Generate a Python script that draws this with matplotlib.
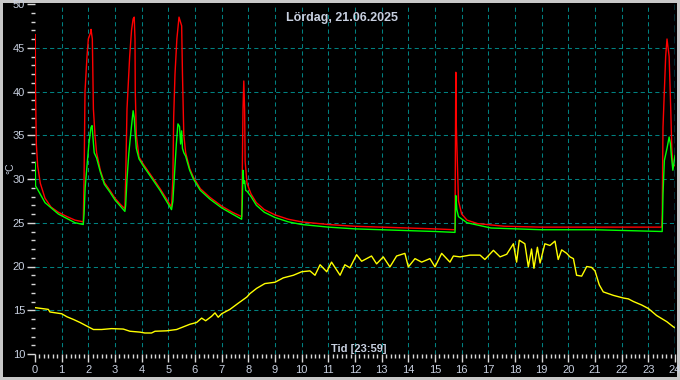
import numpy as np
import matplotlib.pyplot as plt
from matplotlib.ticker import MultipleLocator

# --- data (time in hours, temperature in degC) ---
red_t = [0.01, 0.02, 0.05, 0.10, 0.20, 0.375, 0.60, 0.875, 1.20, 1.50, 1.81,
         1.84, 1.875, 1.95, 2.00, 2.08, 2.10, 2.15, 2.19, 2.25, 2.31, 2.45, 2.60, 2.81, 3.00, 3.20, 3.37,
         3.40, 3.45, 3.55, 3.62, 3.68, 3.72, 3.75, 3.76, 3.80, 3.90, 4.06, 4.40, 4.69, 5.12,
         5.17, 5.20, 5.25, 5.32, 5.40, 5.50, 5.53, 5.58, 5.65, 5.80, 5.94, 6.20, 6.56, 7.00, 7.40, 7.75,
         7.77, 7.80, 7.83, 7.86, 7.88, 7.95, 8.10, 8.30, 8.60, 9.00, 9.50, 10.0, 11.0, 12.0, 13.0, 14.0, 15.0, 15.75,
         15.78, 15.80, 15.88, 16.00, 16.20, 16.60, 17.60, 19.0, 21.0, 23.50,
         23.52, 23.55, 23.60, 23.65, 23.70, 23.78, 23.84, 23.88, 23.92, 24.0]
red_v = [46.5, 40.0, 34.0, 31.5, 29.5, 27.8, 26.8, 26.2, 25.7, 25.3, 25.1,
         30.0, 40.0, 44.0, 46.0, 46.7, 47.1, 46.0, 38.0, 35.0, 33.0, 31.0, 29.6, 28.7, 27.8, 27.1, 26.6,
         30.0, 38.0, 44.0, 47.0, 48.3, 48.5, 46.0, 40.0, 35.0, 32.5, 31.7, 30.2, 28.9, 26.8,
         30.0, 37.0, 42.0, 46.0, 48.5, 47.5, 42.0, 35.0, 33.0, 31.2, 30.2, 28.9, 27.9, 26.9, 26.2, 25.7,
         30.0, 38.0, 41.2, 38.0, 32.0, 29.5, 28.3, 27.3, 26.5, 25.9, 25.4, 25.1, 24.8, 24.6, 24.5, 24.4, 24.3, 24.2,
         42.2, 36.0, 27.5, 26.0, 25.3, 24.9, 24.6, 24.5, 24.5, 24.5,
         26.0, 35.9, 40.0, 44.0, 46.0, 44.0, 38.0, 33.5, 31.7, 31.5]

green_t = [0.01, 0.02, 0.10, 0.375, 0.875, 1.50, 1.81,
           1.84, 1.88, 1.95, 2.02, 2.10, 2.14, 2.18, 2.22, 2.31, 2.45, 2.60, 2.81, 3.00, 3.20, 3.37,
           3.40, 3.45, 3.52, 3.60, 3.68, 3.72, 3.76, 3.80, 3.90, 4.06, 4.40, 4.69, 5.12,
           5.17, 5.22, 5.30, 5.36, 5.42, 5.46, 5.50, 5.53, 5.58, 5.65, 5.80, 5.94, 6.20, 6.56, 7.00, 7.40, 7.75,
           7.77, 7.80, 7.83, 7.86, 7.90, 7.95, 8.10, 8.30, 8.60, 9.00, 9.50, 10.0, 11.0, 12.0, 13.0, 14.0, 15.0, 15.75,
           15.78, 15.82, 15.88, 16.20, 17.10, 19.0, 21.0, 23.52,
           23.55, 23.60, 23.70, 23.78, 23.83, 23.87, 23.92, 24.0]
green_v = [31.9, 29.2, 28.8, 27.3, 26.0, 25.0, 24.8,
           26.0, 29.0, 31.5, 34.0, 35.9, 36.1, 34.5, 33.0, 32.4, 30.8, 29.4, 28.5, 27.6, 26.9, 26.3,
           27.0, 30.0, 33.0, 35.5, 37.8, 37.0, 35.0, 33.5, 32.3, 31.5, 30.0, 28.7, 26.5,
           27.5, 30.0, 34.0, 36.3, 36.0, 34.0, 35.5, 33.5, 33.0, 32.6, 31.0, 30.0, 28.7, 27.7, 26.7, 26.0, 25.4,
           27.0, 31.0, 29.5, 29.8, 28.7, 28.6, 28.0, 27.0, 26.2, 25.6, 25.1, 24.8, 24.5, 24.3, 24.2, 24.1, 24.0, 23.9,
           28.1, 26.5, 25.7, 25.0, 24.4, 24.2, 24.2, 24.0,
           28.3, 32.1, 33.5, 34.8, 34.0, 32.5, 31.0, 32.7]

yellow_t = [0.00, 0.50, 0.56, 1.00, 1.20, 1.44, 1.69, 2.00, 2.19, 2.50, 2.87, 3.31, 3.56, 3.94, 4.12, 4.37,
            4.50, 4.94, 5.31, 5.56, 5.81, 6.06, 6.25, 6.40, 6.62, 6.75, 6.87, 7.00, 7.31, 7.62, 7.94, 8.06,
            8.31, 8.62, 9.00, 9.31, 9.69, 10.0, 10.31, 10.50, 10.69, 10.94, 11.12, 11.44, 11.62, 11.81,
            12.06, 12.25, 12.62, 12.81, 13.06, 13.31, 13.56, 13.87, 14.00, 14.25, 14.50, 14.81, 15.00,
            15.25, 15.56, 15.69, 15.94, 16.31, 16.69, 16.87, 17.19, 17.44, 17.69, 17.94, 18.06, 18.16,
            18.37, 18.50, 18.62, 18.71, 18.84, 18.94, 19.12, 19.31, 19.50, 19.62, 19.75, 19.94, 20.06,
            20.19, 20.31, 20.50, 20.69, 20.87, 21.00, 21.16, 21.31, 21.69, 22.06, 22.25, 22.44, 22.75,
            23.00, 23.31, 23.69, 23.94, 24.0]
yellow_v = [15.3, 15.1, 14.8, 14.6, 14.25, 13.95, 13.6, 13.1, 12.8, 12.8, 12.9, 12.85, 12.6, 12.5, 12.4, 12.4,
            12.6, 12.65, 12.8, 13.1, 13.4, 13.6, 14.1, 13.8, 14.3, 14.7, 14.2, 14.6, 15.1, 15.8, 16.5, 16.9,
            17.5, 18.05, 18.2, 18.7, 19.0, 19.4, 19.5, 19.0, 20.2, 19.4, 20.5, 19.0, 20.2, 19.85,
            21.35, 20.6, 21.2, 20.3, 21.1, 19.95, 21.2, 21.5, 19.95, 20.9, 20.5, 20.9, 19.95,
            21.5, 20.5, 21.2, 21.1, 21.3, 21.3, 20.8, 21.85, 21.1, 21.4, 22.6, 20.5, 23.0,
            22.6, 19.95, 22.0, 19.8, 22.2, 20.4, 22.6, 22.4, 22.9, 20.8, 21.9, 21.5, 21.1,
            20.9, 19.0, 18.9, 20.0, 19.9, 19.5, 17.9, 17.1, 16.7, 16.4, 16.3, 16.0, 15.6,
            15.2, 14.4, 13.7, 13.1, 13.0]

title = 'Lördag, 21.06.2025'
xlabel = 'Tid [23:59]'
ylabel = '°C'

txt = '#c8d0e0'
gridc = '#008080'

plt.rcParams['font.family'] = ['Liberation Sans', 'DejaVu Sans']

fig = plt.figure(figsize=(6.8, 3.8), dpi=100, facecolor='black')
fig.patch.set_edgecolor('#c8c8c8')
fig.patch.set_linewidth(3)
ax = fig.add_axes([35/680, 26/380, 640/680, 350/380], facecolor='black')

ax.plot(red_t, red_v, color='#ff0000', lw=1.0, zorder=3)
ax.plot(green_t, green_v, color='#00ff00', lw=1.0, zorder=4)
ax.plot(yellow_t, yellow_v, color='#ffff00', lw=1.0, zorder=5)

ax.set_xlim(0, 24)
ax.set_ylim(10, 50)
ax.xaxis.set_major_locator(MultipleLocator(1))
ax.xaxis.set_minor_locator(MultipleLocator(1/6))
ax.yaxis.set_major_locator(MultipleLocator(5))
ax.yaxis.set_minor_locator(MultipleLocator(1))
for s in ax.spines.values():
    s.set_visible(False)
ax.tick_params(which='major', colors='#d8d8d8', labelcolor=txt, labelsize=8, length=6, width=1)
ax.tick_params(which='minor', colors='#d8d8d8', length=3, width=1)
ax.tick_params(axis='x', pad=2)
ax.tick_params(axis='y', pad=1)

# dashed grid
for h in range(1, 24):
    ax.axvline(h, color=gridc, lw=0.75, ls=(0, (4, 3)), zorder=1)
for v in range(15, 50, 5):
    ax.axhline(v, color=gridc, lw=0.75, ls=(0, (4, 3)), zorder=1)
ax.axvline(24, color='#00e0ff', lw=1.0, ls=(0, (5, 3)), zorder=6)

ax.text(0.479, 0.96, title, transform=ax.transAxes, ha='center', va='center',
        color=txt, fontsize=9, fontweight='bold')
ax.text(0.506, 0.015, xlabel, transform=ax.transAxes, ha='center', va='center',
        color=txt, fontsize=8, fontweight='bold', zorder=7)
fig.text(10/680, 1 - 168/380, ylabel, rotation=90, ha='center', va='center',
         color=txt, fontsize=7.5)

fig.savefig('out.png', dpi=100, facecolor=fig.get_facecolor(), edgecolor=fig.patch.get_edgecolor())
